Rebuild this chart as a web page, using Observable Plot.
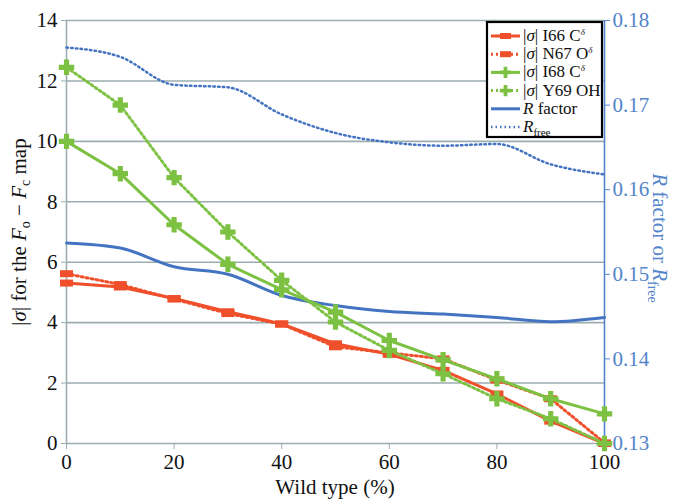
<!DOCTYPE html>
<html>
<head>
<meta charset="utf-8">
<script src="https://cdn.jsdelivr.net/npm/d3@7"></script>
<script src="https://cdn.jsdelivr.net/npm/@observablehq/plot@0.6"></script>
<style>
  @font-face { font-family: "RefSerif"; font-style: normal;
    src: local("Liberation Serif"), local("LiberationSerif"), local("LiberationSerif-Regular"), local("Liberation Serif Regular"), local("DejaVu Serif"), local("DejaVuSerif"); }
  @font-face { font-family: "RefSerif"; font-style: italic;
    src: local("Liberation Serif Italic"), local("LiberationSerif-Italic"), local("DejaVu Serif Italic"), local("DejaVuSerif-Italic"); }
  body { margin: 0; background: #fff; }
  #chart { position: relative; width: 680px; height: 500px; }
  #chart svg, #chart svg text { font-family: "Liberation Serif", RefSerif, "Times New Roman", Times, "DejaVu Serif", serif; }
</style>
</head>
<body>
<div id="chart"></div>
<script>
// ---- data ----
const wildType = [0, 10, 20, 30, 40, 50, 60, 70, 80, 90, 100];
const sigmaI66 = [5.31, 5.18, 4.80, 4.36, 3.96, 3.30, 2.95, 2.42, 1.64, 0.74, 0.00];
const sigmaN67 = [5.62, 5.26, 4.78, 4.30, 3.95, 3.20, 3.00, 2.80, 2.10, 1.48, 0.02];
const sigmaI68 = [10.00, 8.93, 7.24, 5.93, 5.09, 4.35, 3.41, 2.77, 2.14, 1.48, 0.98];
const sigmaY69 = [12.45, 11.20, 8.80, 7.00, 5.40, 4.02, 3.08, 2.31, 1.48, 0.82, 0.00];
const rFactor = [0.1537, 0.1531, 0.1509, 0.1500, 0.1475, 0.1463, 0.1456, 0.1453, 0.1449, 0.1444, 0.1449];
const rFree   = [0.1768, 0.1757, 0.1724, 0.1721, 0.1689, 0.1667, 0.1656, 0.1652, 0.1654, 0.1630, 0.1618];
const leftTicks = [0, 2, 4, 6, 8, 10, 12, 14];
const bottomTicks = [0, 20, 40, 60, 80, 100];
const rightTicks = [0.13, 0.14, 0.15, 0.16, 0.17, 0.18];

// right axis [0.13, 0.18] mapped onto left axis [0, 14]
const rMin = 0.13, rMax = 0.18, yMax = 14;
const toLeft = r => (r - rMin) / (rMax - rMin) * yMax;
const toRight = v => rMin + v / yMax * (rMax - rMin);

const RED = "#ef4f2a", GREEN = "#7cc142", BLUE = "#4473c2", AXISBLUE = "#5384cc", GRID = "#9badb1";
const SERIF = '"Liberation Serif", RefSerif, "Times New Roman", Times, "DejaVu Serif", serif';

const rows = wildType.map((w, i) => ({
  w, i66: sigmaI66[i], n67: sigmaN67[i], i68: sigmaI68[i], y69: sigmaY69[i],
  rf: toLeft(rFactor[i]), rfree: toLeft(rFree[i])
}));

const rectSymbol = { draw(ctx, size) { ctx.rect(-6.5, -3.5, 13, 7); } };

const chart = Plot.plot({
  width: 680, height: 500,
  marginLeft: 66, marginRight: 76, marginTop: 20, marginBottom: 57,
  style: { fontFamily: SERIF, fontSize: "19px", background: "#fff" },
  x: { domain: [0, 100] },
  y: { domain: [0, 14] },
  marks: [
    Plot.gridY(leftTicks, { stroke: GRID, strokeOpacity: 1, strokeWidth: 1.6 }),
    Plot.ruleX([0], { stroke: GRID, strokeWidth: 1.6 }),
    Plot.ruleX([100], { stroke: AXISBLUE, strokeWidth: 1.6 }),
    Plot.axisY(leftTicks, { anchor: "left", label: null, tickSize: 5, tickPadding: 4, stroke: GRID, fill: "#111", fontSize: 21 }),
    Plot.axisX(bottomTicks, { anchor: "bottom", label: null, tickSize: 6, tickPadding: 5, stroke: GRID, fill: "#111", fontSize: 21 }),
    Plot.axisY(rightTicks.map(toLeft), { anchor: "right", label: null, tickSize: 5, tickPadding: 3,
      tickFormat: v => toRight(v).toFixed(2), stroke: AXISBLUE, fill: AXISBLUE, fontSize: 21 }),
    // R factor lines (smoothed)
    Plot.line(rows, { x: "w", y: "rfree", stroke: BLUE, strokeWidth: 2.5, strokeDasharray: "1.5,3.2", curve: "monotone-x" }),
    Plot.line(rows, { x: "w", y: "rf", stroke: BLUE, strokeWidth: 3, curve: "monotone-x" }),
    // red series
    Plot.line(rows, { x: "w", y: "n67", stroke: RED, strokeWidth: 3, strokeDasharray: "2,3" }),
    Plot.dot(rows, { x: "w", y: "n67", symbol: rectSymbol, fill: RED, stroke: "none" }),
    Plot.line(rows, { x: "w", y: "i66", stroke: RED, strokeWidth: 3 }),
    Plot.dot(rows, { x: "w", y: "i66", symbol: rectSymbol, fill: RED, stroke: "none" }),
    // green series
    Plot.line(rows, { x: "w", y: "y69", stroke: GREEN, strokeWidth: 3, strokeDasharray: "2,3" }),
    Plot.dot(rows, { x: "w", y: "y69", symbol: "cross", r: 6.5, fill: GREEN, stroke: "none" }),
    Plot.line(rows, { x: "w", y: "i68", stroke: GREEN, strokeWidth: 3 }),
    Plot.dot(rows, { x: "w", y: "i68", symbol: "cross", r: 6.5, fill: GREEN, stroke: "none" })
  ]
});
document.getElementById("chart").appendChild(chart);

const svg = d3.select(chart);

// axis titles
svg.append("text").attr("x", 335).attr("y", 494).attr("text-anchor", "middle")
  .attr("font-size", 21).attr("fill", "#111").text("Wild type (%)");

const yl = svg.append("text").attr("transform", "translate(26,232) rotate(-90)").attr("text-anchor", "middle")
  .attr("font-size", 21).attr("fill", "#111");
yl.append("tspan").text("|");
yl.append("tspan").attr("font-style", "italic").text("σ");
yl.append("tspan").text("| for the ");
yl.append("tspan").attr("font-style", "italic").text("F");
yl.append("tspan").attr("font-size", 14).attr("dy", 4).text("o");
yl.append("tspan").attr("dy", -4).text(" − ");
yl.append("tspan").attr("font-style", "italic").text("F");
yl.append("tspan").attr("font-size", 14).attr("dy", 4).text("c");
yl.append("tspan").attr("dy", -4).text(" map");

const rl = svg.append("text").attr("transform", "translate(653,238) rotate(90)").attr("text-anchor", "middle")
  .attr("font-size", 21).attr("fill", AXISBLUE);
rl.append("tspan").attr("font-style", "italic").text("R");
rl.append("tspan").text(" factor or ");
rl.append("tspan").attr("font-style", "italic").text("R");
rl.append("tspan").attr("font-size", 14).attr("dy", 5).text("free");

// legend
const lg = svg.append("g");
lg.append("rect").attr("x", 487).attr("y", 22).attr("width", 115).attr("height", 115)
  .attr("fill", "#fff").attr("stroke", "#000").attr("stroke-width", 2.2);
const items = [
  { color: RED, dash: null, marker: "rect", parts: [["|", ""], ["σ", "i"], ["| I66 C", ""], ["δ", "sup"]] },
  { color: RED, dash: "2,3", marker: "rect", parts: [["|", ""], ["σ", "i"], ["| N67 O", ""], ["δ", "sup"]] },
  { color: GREEN, dash: null, marker: "cross", parts: [["|", ""], ["σ", "i"], ["| I68 C", ""], ["δ", "sup"]] },
  { color: GREEN, dash: "2,3", marker: "cross", parts: [["|", ""], ["σ", "i"], ["| Y69 OH", ""]] },
  { color: BLUE, dash: null, marker: null, parts: [["R", "i"], [" factor", ""]] },
  { color: BLUE, dash: "1.5,3", marker: null, parts: [["R", "i"], ["free", "sub"]] }
];
items.forEach((it, k) => {
  const y = 36 + k * 18.2;
  lg.append("line").attr("x1", 491).attr("x2", 520).attr("y1", y).attr("y2", y)
    .attr("stroke", it.color).attr("stroke-width", it.marker || !it.dash ? 3 : 2.5)
    .attr("stroke-dasharray", it.dash);
  if (it.marker === "rect") {
    lg.append("rect").attr("x", 500).attr("y", y - 3).attr("width", 11).attr("height", 6).attr("fill", it.color);
  } else if (it.marker === "cross") {
    lg.append("path").attr("transform", `translate(505.5,${y})`).attr("d", d3.symbol(d3.symbolCross, 70)()).attr("fill", it.color);
  }
  const t = lg.append("text").attr("x", 523).attr("y", y + 5).attr("text-anchor", "start")
    .attr("font-size", 17).attr("fill", "#111");
  it.parts.forEach(([s, f]) => {
    const ts = t.append("tspan").text(s);
    if (f === "i") ts.attr("font-style", "italic");
    if (f === "sup") ts.attr("font-size", 9).attr("dy", -6).attr("font-style", "italic");
    if (f === "sub") ts.attr("font-size", 11).attr("dy", 4);
  });
});
</script>
</body>
</html>
